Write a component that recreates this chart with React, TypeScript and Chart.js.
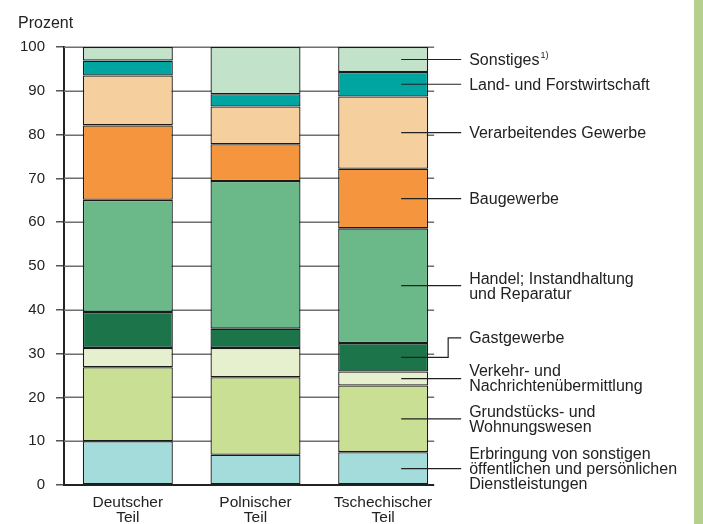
import React, { useEffect, useRef } from "react";
import { Chart, registerables } from "chart.js";

Chart.register(...registerables);

const categories = [["Deutscher", "Teil"], ["Polnischer", "Teil"], ["Tschechischer", "Teil"]];
const yTicks = [0, 10, 20, 30, 40, 50, 60, 70, 80, 90, 100];

const erbringung = [10.0, 6.9, 7.5];
const grundstuecks = [16.9, 17.7, 15.2];
const verkehr = [4.4, 6.7, 3.2];
const gastgewerbe = [8.2, 4.4, 6.5];
const handel = [25.6, 33.7, 26.2];
const baugewerbe = [17.0, 8.4, 13.6];
const verarbeitendes = [11.4, 8.6, 16.5];
const landForst = [3.4, 2.8, 5.6];
const sonstiges = [3.1, 10.8, 5.7];

const seriesLabels = [
  ["Erbringung von sonstigen", "öffentlichen und persönlichen", "Dienstleistungen"],
  ["Grundstücks- und", "Wohnungswesen"],
  ["Verkehr- und", "Nachrichtenübermittlung"],
  ["Gastgewerbe"],
  ["Handel; Instandhaltung", "und Reparatur"],
  ["Baugewerbe"],
  ["Verarbeitendes Gewerbe"],
  ["Land- und Forstwirtschaft"],
  ["Sonstiges"],
];
const seriesData = [erbringung, grundstuecks, verkehr, gastgewerbe, handel, baugewerbe, verarbeitendes, landForst, sonstiges];
const seriesColors = ["#a4dcdc", "#c9df93", "#e6f0cf", "#1c744a", "#6bb888", "#f5963e", "#f6cf9f", "#00a4a1", "#c2e2ca"];

const FONT = '"Liberation Sans", Arial, sans-serif';
const TEXT = "#222222";

const overlay = {
  id: "overlay",
  beforeDatasetsDraw(chart: any) {
    const ctx = chart.ctx;
    const ys = chart.scales.y;
    const meta = chart.getDatasetMeta(0);
    const last = meta.data[meta.data.length - 1];
    const gridRight = last.x + last.width / 2 + 6;
    ctx.save();
    ctx.strokeStyle = "#6f6f6f";
    ctx.lineWidth = 1.5;
    yTicks.forEach((v) => {
      if (v === 0) return;
      const y = Math.round(ys.getPixelForValue(v)) + 0.25;
      ctx.beginPath();
      ctx.moveTo(chart.chartArea.left, y);
      ctx.lineTo(gridRight, y);
      ctx.stroke();
    });
    ctx.restore();
  },
  afterDatasetsDraw(chart: any) {
    const ctx = chart.ctx;
    const ys = chart.scales.y;
    const meta = chart.getDatasetMeta(0);
    const last = meta.data[meta.data.length - 1];
    const barRight = last.x + last.width / 2;
    const gridRight = barRight + 6;
    ctx.save();
    ctx.strokeStyle = TEXT;
    ctx.lineWidth = 2;
    const y0 = ys.getPixelForValue(0);
    ctx.beginPath();
    ctx.moveTo(chart.chartArea.left - 1, y0);
    ctx.lineTo(gridRight, y0);
    ctx.stroke();

    ctx.fillStyle = TEXT;
    ctx.font = `16px ${FONT}`;
    ctx.textBaseline = "middle";
    ctx.textAlign = "left";
    ctx.fillText("Prozent", 18, 24);

    const lastIdx = categories.length - 1;
    let cum = 0;
    const lineStart = last.x + 18;
    const lineEnd = barRight + 33;
    const textX = barRight + 41;
    const lineH = 15;
    seriesData.forEach((arr, i) => {
      const v = arr[lastIdx];
      const mid = cum + v / 2;
      cum += v;
      const yLine = ys.getPixelForValue(mid);
      let yText = yLine;
      ctx.strokeStyle = TEXT;
      ctx.lineWidth = 1.2;
      ctx.beginPath();
      if (seriesLabels[i][0] === "Gastgewerbe") {
        yText = yLine - 19.5;
        const elbowX = barRight + 20;
        ctx.moveTo(lineStart, yLine);
        ctx.lineTo(elbowX, yLine);
        ctx.lineTo(elbowX, yText);
        ctx.lineTo(lineEnd, yText);
      } else {
        ctx.moveTo(lineStart, yLine);
        ctx.lineTo(lineEnd, yLine);
      }
      ctx.stroke();
      const lines = seriesLabels[i];
      const top = yText - ((lines.length - 1) * lineH) / 2 + 1;
      ctx.font = `16px ${FONT}`;
      ctx.fillStyle = TEXT;
      lines.forEach((t, k) => {
        ctx.fillText(t, textX, top + k * lineH);
      });
      if (lines[0] === "Sonstiges") {
        const w = ctx.measureText("Sonstiges").width;
        ctx.font = `9px ${FONT}`;
        ctx.fillText("1)", textX + w + 1, yText - 4);
      }
    });

    ctx.fillStyle = "#b5cf8c";
    ctx.fillRect(694, 0, chart.width - 694, chart.height);
    ctx.restore();
  },
};

export default function App() {
  const ref = useRef<HTMLCanvasElement | null>(null);
  useEffect(() => {
    document.body.style.margin = "0";
    const canvas = ref.current;
    if (!canvas) return;
    const chart = new Chart(canvas, {
      type: "bar",
      data: {
        labels: categories,
        datasets: seriesData.map((d, i) => ({
          label: seriesLabels[i].join(" "),
          data: d,
          backgroundColor: seriesColors[i],
          borderColor: "#1a1a1a",
          borderWidth: 1.3,
          borderSkipped: false,
          categoryPercentage: 1,
          barPercentage: 0.705,
        })),
      },
      options: {
        responsive: false,
        animation: false,
        layout: { padding: { left: 0, right: 256, top: 47, bottom: 0 } },
        plugins: { legend: { display: false }, tooltip: { enabled: false } },
        scales: {
          x: {
            stacked: true,
            grid: { display: false, drawTicks: false },
            border: { display: false },
            ticks: {
              color: TEXT,
              font: { family: FONT, size: 15.5, lineHeight: 0.97 },
              padding: 10,
              maxRotation: 0,
            },
            afterFit: (s: any) => {
              s.height = 39;
            },
          },
          y: {
            stacked: true,
            min: 0,
            max: 100,
            ticks: {
              stepSize: 10,
              color: TEXT,
              font: { family: FONT, size: 15 },
              padding: 11,
            },
            grid: { drawOnChartArea: false, drawTicks: true, tickLength: 8, color: "#555", lineWidth: 1.5 },
            border: { display: true, color: TEXT, width: 2 },
            afterFit: (s: any) => {
              s.width = 64;
            },
          },
        },
      },
      plugins: [overlay],
    });
    return () => chart.destroy();
  }, []);
  return (
    <div style={{ width: 703, height: 524, background: "#fff" }}>
      <canvas ref={ref} width={703} height={524} />
    </div>
  );
}
